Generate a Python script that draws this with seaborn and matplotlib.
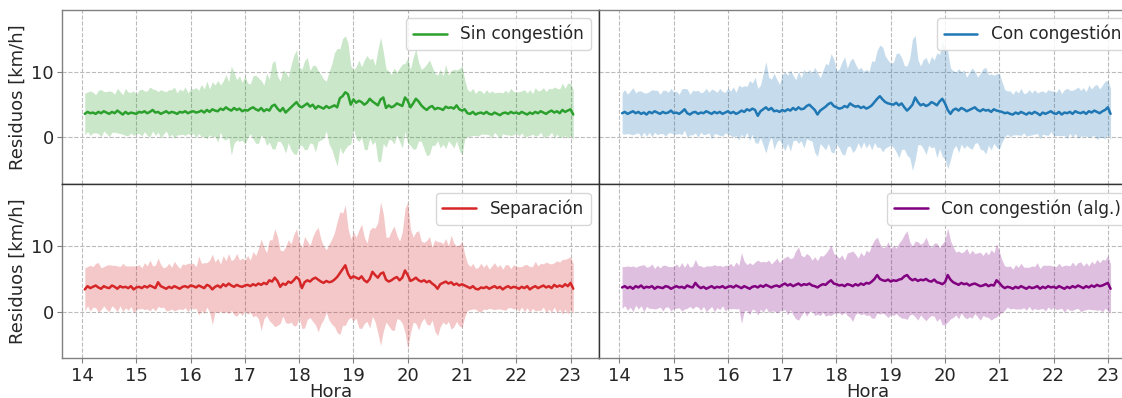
import numpy as np
import pandas as pd
import matplotlib
matplotlib.use("Agg")
import matplotlib.pyplot as plt
import seaborn as sns

# ---------------- data ----------------
hour_start = 14.05
hour_step = 0.05
n_points = 181

labels = ["Sin congestión", "Con congestión", "Separación", "Con congestión (alg.)"]
colors = ["#2ca02c", "#1f77b4", "#d62728", "purple"]

mean_sin = [
    3.6,3.9,3.7,3.8,3.6,3.9,3.7,4.0,3.8,3.6,3.9,3.7,4.1,3.8,3.5,3.9,3.6,3.8,3.7,3.6,
    3.9,3.8,4.0,3.7,3.9,4.2,3.8,3.9,3.6,3.8,4.0,3.7,3.9,3.8,3.6,3.9,3.8,4.0,3.7,3.9,
    4.0,3.8,3.9,4.1,3.8,4.2,3.9,4.3,4.1,4.0,4.4,4.2,4.6,4.3,4.1,4.5,4.2,4.4,4.0,4.2,
    4.1,4.4,4.6,4.3,4.1,4.5,4.0,4.3,4.1,4.8,5.0,4.4,4.0,4.5,3.8,4.2,4.6,5.0,5.4,4.8,
    4.6,4.9,5.2,4.7,5.0,4.4,4.8,4.6,4.4,4.8,4.5,4.7,4.9,4.6,6.0,6.3,6.9,6.6,5.0,5.8,
    5.3,5.6,5.4,5.0,5.3,5.9,5.5,5.2,4.9,5.8,6.1,4.5,4.9,4.6,4.8,5.2,5.0,4.8,6.1,5.6,
    4.6,5.2,5.9,5.5,4.9,4.5,4.2,4.6,4.8,4.3,4.5,4.4,4.2,4.7,4.5,4.6,4.4,4.9,4.3,4.1,
    4.3,3.7,3.6,3.9,3.5,3.7,3.8,3.6,3.9,3.6,3.5,3.8,3.6,3.4,3.7,3.8,3.6,3.9,3.7,3.8,
    3.6,3.9,3.7,3.5,3.8,3.6,3.9,3.7,4.0,3.8,3.6,3.9,4.1,3.8,4.0,3.7,4.2,3.9,4.1,4.3,
    3.5]
std_sin = [
    3.2,3.0,3.4,3.1,2.9,3.3,3.6,3.0,3.2,3.5,3.1,2.9,3.4,3.2,3.0,3.6,3.3,3.1,3.4,3.0,
    3.3,3.6,3.1,3.4,3.8,3.2,3.5,3.1,3.7,3.3,3.0,3.6,3.4,3.9,3.2,3.5,3.3,3.7,3.1,3.5,
    3.4,3.8,3.3,4.0,3.6,4.4,3.5,4.2,3.9,4.7,3.6,4.4,5.0,4.2,6.8,5.4,4.6,5.0,4.4,5.2,
    4.2,3.8,4.8,5.2,5.0,4.2,4.0,5.5,4.8,6.5,6.8,5.0,4.6,5.8,6.2,5.0,6.5,7.5,8.0,6.0,
    5.8,6.8,7.0,5.5,6.0,6.6,5.4,5.0,4.5,3.8,5.5,6.5,8.0,9.0,7.5,8.8,8.6,7.8,6.0,4.5,
    5.5,6.2,5.4,6.8,7.2,6.0,6.6,5.8,8.5,9.5,7.0,6.0,5.2,5.0,5.8,4.8,5.6,6.4,5.2,6.5,
    5.8,7.0,7.6,6.0,5.5,6.2,7.0,7.2,6.0,5.5,5.0,6.0,5.2,6.4,5.0,5.6,6.0,5.4,6.2,6.8,
    4.5,3.6,3.4,3.6,3.2,3.5,3.3,3.1,3.4,3.2,3.6,3.0,3.3,3.5,3.1,3.4,3.2,3.6,3.3,3.1,
    3.4,3.2,3.6,3.3,3.5,3.1,3.7,3.4,3.2,3.8,3.4,3.6,3.3,3.9,3.5,3.7,4.1,3.6,4.2,3.9,
    3.8]

mean_con = [
    3.7,3.9,3.6,3.8,4.0,3.7,3.9,3.6,3.8,3.5,3.9,3.7,4.0,3.8,3.6,3.9,3.7,3.8,4.1,3.7,
    3.8,3.6,3.9,4.3,3.7,3.5,3.8,3.9,3.6,3.8,3.7,4.0,3.8,3.6,3.9,3.7,3.9,3.6,3.8,4.0,
    3.7,3.9,3.6,3.8,4.1,3.9,4.3,4.1,4.4,4.2,3.3,4.0,4.3,4.6,4.2,4.5,4.0,4.1,3.9,4.2,
    4.0,4.3,4.1,4.5,4.2,4.6,4.3,4.4,4.8,5.0,4.6,4.2,3.5,4.1,4.4,4.7,5.1,5.3,4.8,4.6,
    4.4,4.5,4.8,4.6,5.2,4.9,4.7,4.8,4.5,4.7,4.4,4.6,4.9,5.4,5.9,6.3,5.8,5.4,5.2,5.1,
    5.0,5.3,4.9,5.2,4.6,4.1,4.5,5.0,6.1,5.4,4.9,5.1,4.8,5.0,5.4,5.2,4.9,5.5,5.9,5.2,
    4.2,3.6,4.2,4.4,4.1,4.5,4.3,4.0,4.2,4.4,4.6,4.2,4.0,4.3,4.1,4.2,3.9,4.3,4.1,4.0,
    3.9,3.7,3.8,3.6,3.5,3.8,3.6,3.9,3.7,3.5,3.8,3.6,3.9,3.7,3.4,3.8,3.6,3.8,4.0,3.7,
    3.6,3.9,3.5,3.8,3.7,3.9,3.6,4.0,3.8,3.7,3.9,3.6,4.0,3.8,4.1,3.9,3.7,4.0,4.2,4.6,
    3.6]
std_con = [
    3.1,3.4,3.0,3.3,3.6,3.1,3.2,3.5,3.0,3.3,3.1,3.6,3.2,3.4,3.0,3.3,3.5,3.1,3.4,3.2,
    3.3,3.0,3.5,3.2,3.7,3.1,3.4,3.2,3.6,3.0,3.3,3.5,3.1,3.8,3.3,3.2,3.6,3.4,3.1,3.5,
    3.4,3.8,3.3,4.2,3.6,4.0,3.5,4.6,3.9,5.0,4.2,4.0,5.5,7.0,5.0,4.4,5.8,4.8,4.2,5.4,
    6.0,5.2,6.2,5.0,4.6,5.5,4.8,6.0,5.0,5.4,5.2,6.5,6.4,5.0,5.8,6.6,6.0,7.5,7.2,5.6,
    6.0,7.0,7.5,6.0,6.5,7.2,6.5,5.6,6.2,5.4,6.0,5.5,6.8,6.2,7.4,7.8,8.0,7.0,6.6,6.2,
    6.5,7.5,8.0,7.0,6.4,6.8,7.6,10.0,9.5,6.5,6.0,6.8,7.4,6.2,7.0,6.6,8.0,7.2,8.8,8.5,
    9.0,7.0,6.0,5.6,6.4,5.5,6.0,5.2,5.8,6.2,5.5,5.0,5.8,6.2,6.6,5.4,5.8,5.2,5.6,5.8,
    4.6,3.6,3.3,3.5,3.1,3.4,3.2,3.6,3.0,3.3,3.5,3.2,3.4,3.1,3.6,3.3,3.2,3.5,3.1,3.4,
    3.3,3.6,3.2,3.5,3.8,3.3,3.6,3.4,3.9,3.5,3.7,3.4,4.0,3.6,3.8,4.2,3.7,4.0,4.4,4.1,
    3.9]

mean_sep = [
    3.4,3.9,3.6,3.8,4.0,3.7,3.5,3.9,3.7,3.6,4.0,3.8,3.5,3.9,3.7,3.8,3.6,3.9,3.4,3.7,
    3.8,3.6,3.9,3.7,4.0,3.8,3.6,4.5,3.9,3.7,3.5,3.8,3.6,3.9,3.7,3.5,3.8,3.9,3.7,4.0,
    3.9,3.7,4.0,3.8,3.6,4.1,3.9,3.4,3.8,4.0,3.7,4.2,3.9,4.3,4.0,3.8,4.1,3.9,3.8,4.0,
    4.1,3.9,4.2,4.0,4.3,4.1,4.4,4.2,4.8,4.6,5.2,4.7,3.8,4.3,4.1,4.6,4.4,4.8,5.3,4.9,
    3.6,4.5,4.8,4.6,5.0,5.2,4.9,4.6,4.4,4.7,4.5,4.6,4.9,5.3,5.9,6.5,7.1,5.8,5.1,5.4,
    5.2,5.0,5.4,4.8,4.5,5.0,6.1,5.6,5.2,5.8,6.0,4.9,4.6,4.8,5.1,5.3,4.8,5.2,6.3,5.6,
    4.7,4.9,5.2,4.8,4.6,4.8,4.5,4.7,4.3,4.0,3.5,4.2,4.4,4.6,4.3,4.5,4.1,4.3,4.0,4.2,
    4.0,3.8,3.6,3.9,3.5,3.4,3.7,3.6,3.8,3.5,3.7,3.9,3.6,3.8,3.4,3.7,3.9,3.6,3.8,3.7,
    3.5,3.8,3.6,3.9,3.4,3.7,3.9,3.6,3.8,4.0,3.7,3.9,3.6,4.1,3.8,4.0,3.8,4.2,3.9,4.4,
    3.5]
std_sep = [
    3.3,3.0,3.5,3.1,3.4,3.8,3.2,3.0,3.4,3.6,3.1,3.3,3.5,3.0,3.7,3.2,3.4,3.1,3.6,3.3,
    3.4,3.1,3.6,3.3,3.9,3.2,3.5,3.7,3.3,3.0,3.4,3.6,3.2,3.8,3.4,3.1,3.5,3.3,3.7,3.4,
    3.5,3.2,4.5,3.6,3.9,3.4,4.0,5.4,3.8,4.2,3.6,4.4,3.9,4.6,3.8,4.3,4.8,4.0,4.4,3.9,
    4.5,4.0,5.0,4.6,5.4,7.0,5.5,4.8,6.2,6.4,7.5,6.8,5.6,5.0,5.8,6.4,6.0,7.0,7.4,5.8,
    6.2,7.0,6.0,5.5,6.5,7.2,8.0,6.5,5.6,4.8,5.8,6.5,7.2,8.5,9.4,8.6,9.2,7.0,6.0,6.8,
    6.2,7.5,8.0,6.6,6.0,7.5,6.8,7.2,8.5,11.0,9.0,6.5,6.8,7.6,8.0,6.4,6.0,7.0,9.5,11.2,
    8.0,6.5,7.0,7.6,6.2,5.8,6.4,6.8,5.6,7.0,7.2,6.5,6.0,6.6,5.8,7.2,6.4,5.8,6.2,6.6,
    4.8,3.6,3.3,3.5,3.1,3.4,3.7,3.2,3.5,3.0,3.3,3.6,3.2,3.4,3.1,3.5,3.3,3.0,3.4,3.2,
    3.4,3.1,3.6,3.3,3.5,3.2,3.8,3.4,3.6,3.3,3.9,3.5,3.7,3.4,4.0,3.6,4.2,3.8,4.3,4.0,
    3.8]

mean_alg = [
    3.7,3.9,3.6,3.8,3.5,3.9,3.7,4.0,3.6,3.8,3.7,3.9,3.5,3.8,3.7,3.6,3.9,3.8,3.5,3.7,
    3.9,3.7,3.8,3.6,4.0,3.8,3.7,4.4,3.9,3.6,3.8,3.5,3.7,3.9,3.6,3.8,3.7,3.9,3.6,3.8,
    3.9,3.7,4.0,3.8,3.6,3.9,3.7,3.5,3.8,3.9,3.7,4.0,3.8,4.1,3.9,3.7,3.9,4.0,3.8,4.1,
    4.3,4.0,4.2,3.9,4.1,4.3,4.0,4.2,4.1,4.3,4.0,3.9,3.7,4.0,4.2,4.1,4.5,4.8,4.3,4.2,
    4.0,4.1,3.9,4.2,4.1,3.9,4.2,4.0,4.3,4.1,4.4,4.3,4.6,5.0,5.6,5.0,4.8,4.7,4.9,4.6,
    4.8,4.7,4.9,5.0,5.4,5.6,5.1,4.8,5.0,4.7,4.9,4.8,5.0,4.7,4.6,4.9,4.5,4.4,4.2,4.5,
    5.6,4.9,4.5,4.3,4.1,4.4,4.2,4.3,4.0,4.2,4.3,4.1,3.9,4.0,4.2,3.9,4.1,4.0,4.8,4.4,
    3.9,3.6,3.8,3.7,3.5,3.8,3.6,3.9,3.7,3.5,3.8,3.6,3.7,3.9,3.5,3.8,3.6,3.9,3.7,3.8,
    3.6,3.9,3.7,3.5,3.8,3.6,3.9,3.7,4.0,3.8,3.6,3.9,3.7,4.0,3.8,4.1,3.9,4.0,4.2,4.4,
    3.5]
std_alg = [
    3.2,3.0,3.4,3.1,3.5,2.9,3.3,3.1,3.6,3.0,3.2,3.4,3.1,3.3,3.0,3.5,3.2,3.1,3.4,3.2,
    3.4,3.1,3.7,3.2,3.5,3.0,3.3,3.6,3.2,3.4,3.0,3.5,3.3,3.1,3.6,3.2,3.4,3.0,3.5,3.3,
    3.5,3.2,3.6,3.3,5.4,3.8,3.5,4.0,3.4,3.7,4.2,3.6,3.9,3.5,4.0,3.6,3.8,4.2,3.7,3.9,
    4.0,4.5,3.9,4.4,5.2,5.6,4.6,4.2,4.8,4.3,3.9,4.5,4.1,4.6,4.3,4.8,5.0,5.4,4.6,4.4,
    4.2,4.6,4.0,4.8,5.0,5.4,4.6,4.2,4.8,4.4,5.0,4.8,5.6,6.0,5.8,5.4,5.0,5.2,5.8,5.0,
    5.4,5.0,5.6,6.0,6.4,6.8,5.6,5.2,5.8,6.0,5.4,5.8,6.4,5.6,5.2,5.6,6.0,5.4,6.2,6.5,
    7.2,6.0,5.4,4.8,5.2,4.6,5.0,5.4,4.8,5.2,4.6,4.9,5.2,4.6,5.0,4.8,5.4,5.0,5.6,4.8,
    4.0,3.4,3.1,3.3,3.0,3.4,3.2,3.5,3.1,3.3,3.0,3.4,3.2,3.6,3.1,3.3,3.5,3.2,3.4,3.1,
    3.3,3.5,3.2,3.6,3.3,3.4,3.7,3.3,3.5,3.8,3.4,3.6,3.3,3.7,3.5,3.9,3.6,4.0,3.7,4.2,
    3.8]

x_ticks = [14, 15, 16, 17, 18, 19, 20, 21, 22, 23]
y_ticks = [0, 10]

# ---------------- figure ----------------
sns.set_style("white")
plt.rcParams["font.family"] = ["DejaVu Sans"]
plt.rcParams["font.size"] = 13

hours = np.round(hour_start + hour_step * np.arange(n_points), 2)
means = [mean_sin, mean_con, mean_sep, mean_alg]
stds = [std_sin, std_con, std_sep, std_alg]

fig = plt.figure(figsize=(11.22, 3.98), dpi=100)
W, H = 1122.0, 398.0
x_left, x_mid = 62.0, 599.3
y_top, y_mid, y_bot = 9.7, 184.3, 358.3
pw = x_mid - x_left
positions = [
    (x_left, y_top, y_mid), (x_mid, y_top, y_mid),
    (x_left, y_mid, y_bot), (x_mid, y_mid, y_bot),
]
axes = []
for (x0, yt, yb) in positions:
    ax = fig.add_axes([x0 / W, (H - yb) / H, pw / W, (yb - yt) / H])
    axes.append(ax)

outer = "#808080"
inner = "#333333"
for i, ax in enumerate(axes):
    m = np.array(means[i])
    s = np.array(stds[i])
    df = pd.DataFrame({"Hora": hours, "val": m})
    ax.set_axisbelow(True)
    ax.fill_between(hours, m - s, m + s, color=colors[i], alpha=0.25, linewidth=0)
    sns.lineplot(data=df, x="Hora", y="val", ax=ax, color=colors[i],
                 linewidth=1.8, label=labels[i])
    ax.set_xlim(13.63, 23.53)
    ax.set_ylim(-7.15, 19.5)
    ax.set_xticks(x_ticks)
    ax.set_yticks(y_ticks)
    ax.grid(True, linestyle="--", color="#bbbbbb", linewidth=0.8)
    ax.tick_params(axis="both", which="both", length=3.5, color=outer,
                   labelsize=13, labelcolor="#262626", direction="out", pad=2.5)
    ax.tick_params(axis="x", bottom=True)
    ax.tick_params(axis="y", left=True)
    for sp in ax.spines.values():
        sp.set_color(outer)
        sp.set_linewidth(1.0)
    leg = ax.legend(loc="upper right", fontsize=12.2, frameon=True,
                    framealpha=0.85, edgecolor="#d0d0d0", fancybox=True)
    col = i % 2
    row = i // 2
    if col == 0:
        ax.set_ylabel("Residuos [km/h]", fontsize=13, color="#262626", labelpad=3)
        ax.spines["right"].set_color(inner)
    else:
        ax.set_ylabel("")
        ax.tick_params(axis="y", labelleft=False, left=False)
        ax.spines["left"].set_color(inner)
    if row == 0:
        ax.set_xlabel("")
        ax.tick_params(axis="x", labelbottom=False, bottom=False)
        ax.spines["bottom"].set_color(inner)
    else:
        ax.set_xlabel("Hora", fontsize=13, color="#262626", labelpad=-1)
        ax.spines["top"].set_color(inner)

fig.savefig("out.png", dpi=100)
